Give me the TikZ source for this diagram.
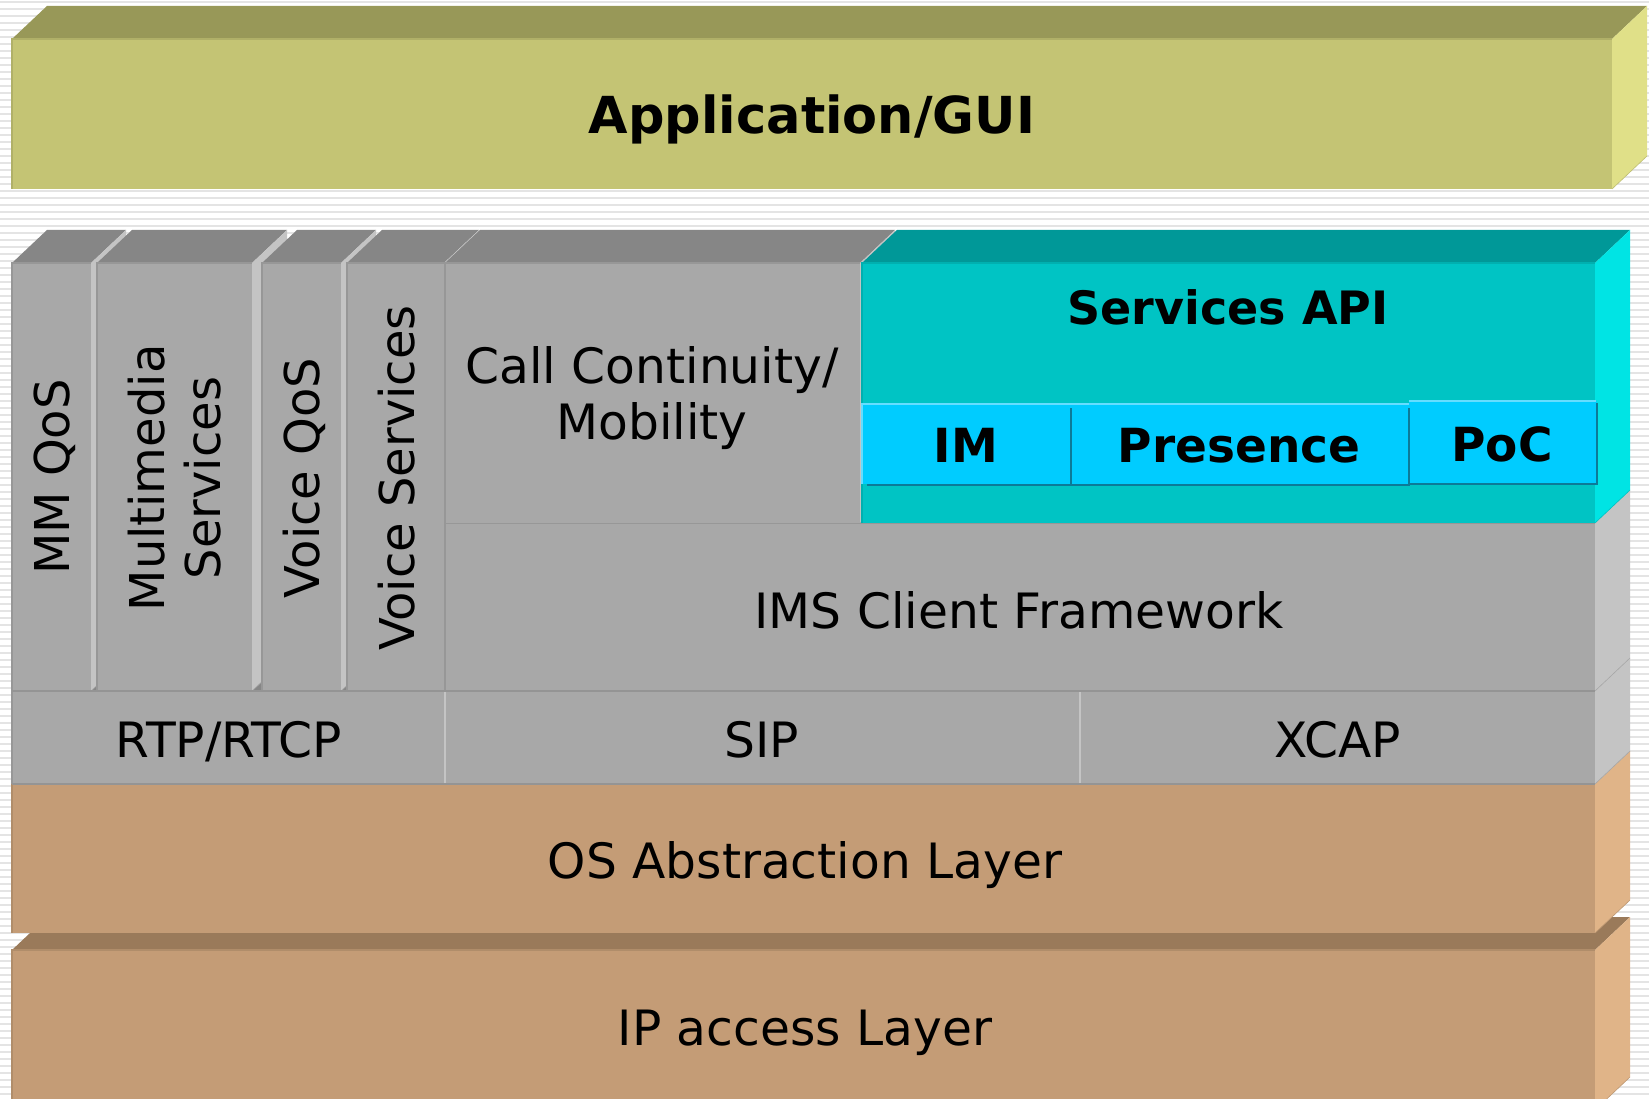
\documentclass[tikz,border=0pt]{standalone}
\usepackage{fontspec}
\setmainfont{DejaVu Sans}
\definecolor{appF}{HTML}{C4C474}
\definecolor{appT}{HTML}{989858}
\definecolor{appS}{HTML}{E0E088}
\definecolor{grF}{HTML}{A8A8A8}
\definecolor{grT}{HTML}{868686}
\definecolor{grS}{HTML}{C4C4C4}
\definecolor{tlF}{HTML}{00C4C4}
\definecolor{tlT}{HTML}{009898}
\definecolor{tlS}{HTML}{00E4E4}
\definecolor{cyF}{HTML}{00CCFF}
\definecolor{cyL}{HTML}{66DDFF}
\definecolor{cyD}{HTML}{0C7A98}
\definecolor{tnF}{HTML}{C49C76}
\definecolor{tnT}{HTML}{9A7A5A}
\definecolor{tnS}{HTML}{E0B488}
\definecolor{stripe}{HTML}{E4E4E4}
% #1 x1, #2 y1 (front top), #3 x2, #4 y2 (front bottom), #5 front, #6 top, #7 side
\newcommand{\slabbox}[7]{%
  \fill[#6] (#1,#2) -- ({#1+35},{#2-33}) -- ({#3+35},{#2-33}) -- (#3,#2) -- cycle;
  \fill[#7] (#3,#2) -- ({#3+35},{#2-33}) -- ({#3+35},{#4-33}) -- (#3,#4) -- cycle;
  \draw[#7!85!black, line width=0.6] (#3,#4) -- ({#3+35},{#4-33});
  \fill[#5] (#1,#2) rectangle (#3,#4);
  \draw[#5!90!black, line width=1.5] (#1,#4) -- (#1,#2) -- (#3,#2);
}
\tikzset{
  lbl/.style={font=\fontsize{48.7}{56}\selectfont, text=black, inner sep=0pt, align=center},
  vlbl/.style={font=\fontsize{48}{56}\selectfont, text=black, inner sep=0pt, align=center, rotate=90},
  blbl/.style={font=\fontsize{47}{56}\selectfont\bfseries, text=black, inner sep=0pt},
}
\begin{document}
\begin{tikzpicture}[x=1pt, y=-1pt]
\useasboundingbox (0,0) rectangle (1649,1099);
\fill[white] (0,0) rectangle (1649,1099);
\foreach \k in {0,...,157} \fill[stripe] (0,{7*\k+1}) rectangle (1649,{7*\k+3.4});
% application
\slabbox{12}{39}{1612}{189}{appF}{appT}{appS}
% IP access layer
\slabbox{12}{950}{1595}{1110}{tnF}{tnT}{tnS}
% OS abstraction layer
\slabbox{12}{784}{1595}{933}{tnF}{tnT}{tnS}
% protocol row
\slabbox{12}{691}{445}{784}{grF}{grT}{grS}
\slabbox{445}{691}{1080}{784}{grF}{grT}{grS}
\slabbox{1080}{691}{1595}{784}{grF}{grT}{grS}
\draw[grS, line width=2] (445,692) -- (445,784);
\draw[grS, line width=2] (1080,692) -- (1080,784);
\draw[grF!88!black, line width=1.2] (12,784) -- (1595,784);
% columns
\slabbox{12}{263}{91}{691}{grF}{grT}{grS}
\slabbox{97}{263}{252}{691}{grF}{grT}{grS}
\slabbox{262}{263}{341}{691}{grF}{grT}{grS}
\slabbox{347}{263}{444}{691}{grF}{grT}{grS}
% IMS client framework
\slabbox{445}{523}{1595}{691}{grF}{grT}{grS}
% call continuity
\slabbox{445}{263}{860}{523}{grF}{grT}{grS}
\draw[grF!88!black, line width=1.2] (12,691) -- (1595,691);
% services API
\slabbox{862}{263}{1595}{523}{tlF}{tlT}{tlS}
% sub-boxes
\fill[cyF] (862,404) rectangle (1409,484);
\fill[cyF] (1409,401) rectangle (1597,483);
\draw[cyL, line width=2.5] (862,484) -- (862,404) -- (1409,404);
\draw[cyL, line width=2.5] (1409,401) -- (1596,401);
\draw[cyD, line width=2.5] (867,485) -- (1410,485);
\draw[cyD, line width=2.5] (1409,484) -- (1597,484) -- (1597,403);
\draw[cyD, line width=2] (1071,408) -- (1071,484);
\draw[cyD, line width=2.5] (1409,408) -- (1409,485);
% texts
\node[blbl, font=\fontsize{51}{60}\selectfont\bfseries, anchor=base] (app) at (812,134) {Application/GUI};
\node[blbl, font=\fontsize{46}{56}\selectfont\bfseries, anchor=base] (api) at (1228,324) {Services API};
\node[blbl, anchor=base] (im) at (966,462) {IM};
\node[blbl, anchor=base] (pres) at (1239,462) {Presence};
\node[blbl, anchor=base] (poc) at (1502,461) {PoC};
\node[vlbl] (mmqos) at (55,477) {MM QoS};
\node[vlbl] (mms) at (175,478) {Multimedia\\Services};
\node[vlbl] (vqos) at (304,478) {Voice QoS};
\node[vlbl] (vs) at (397,478) {Voice Services};
\node[lbl] (cc) at (652,398) {Call Continuity/\\Mobility};
\node[lbl, anchor=base] (ims) at (1019,628) {IMS Client Framework};
\node[lbl, anchor=base] (rtp) at (229,757) {RTP/RTCP};
\node[lbl, anchor=base] (sip) at (762,757) {SIP};
\node[lbl, anchor=base] (xcap) at (1338,757) {XCAP};
\node[lbl, anchor=base] (os) at (805,878) {OS Abstraction Layer};
\node[lbl, anchor=base] (ip) at (805,1045) {IP access Layer};
\end{tikzpicture}
\end{document}
